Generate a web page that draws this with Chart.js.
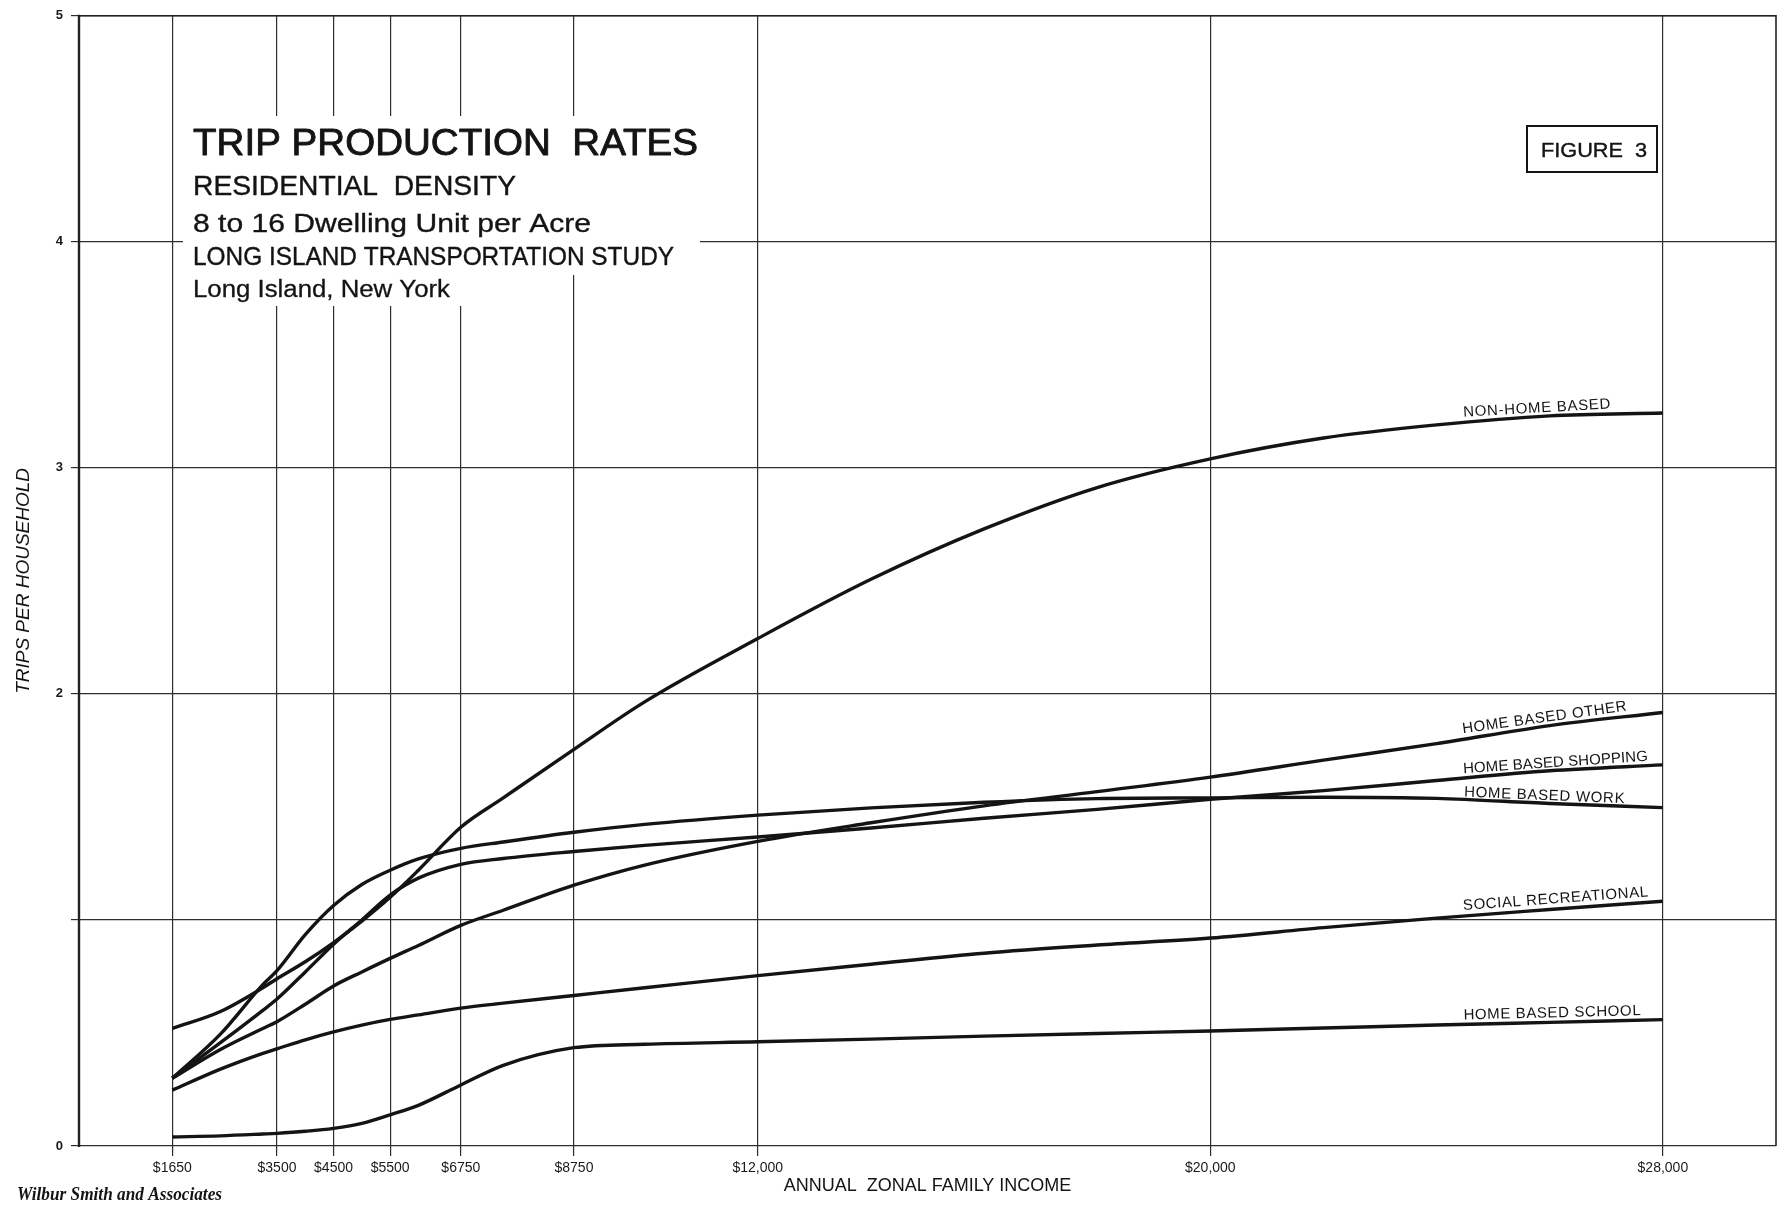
<!DOCTYPE html>
<html>
<head>
<meta charset="utf-8">
<title>Trip Production Rates</title>
<script src="https://cdn.jsdelivr.net/npm/chart.js@4.4.1/dist/chart.umd.min.js"></script>
<style>
  html, body { margin: 0; padding: 0; background: #ffffff; }
  #wrap { width: 1792px; height: 1209px; position: relative; }
</style>
</head>
<body>
<div id="wrap"><canvas id="chart"></canvas></div>
<script>
// Annual zonal family income (dollars) at which each curve is sampled
const incomes = [1650, 2500, 3250, 3500, 4000, 4500, 5000, 5500, 6000, 6750, 7500, 8750,
                 10000, 12000, 14000, 16000, 18000, 20000, 22000, 24000, 26000, 28000];

// Trips per household, by trip purpose
const nonHomeBased       = [0.52, 0.595, 0.70, 0.74, 0.815, 0.90, 0.995, 1.10, 1.22, 1.41, 1.54, 1.755,
                            1.965, 2.245, 2.507, 2.73, 2.913, 3.04, 3.132, 3.19, 3.23, 3.243];
const homeBasedOther     = [0.30, 0.427, 0.52, 0.55, 0.627, 0.708, 0.77, 0.83, 0.887, 0.976, 1.043, 1.154,
                            1.243, 1.348, 1.43, 1.505, 1.568, 1.632, 1.707, 1.78, 1.86, 1.918];
const homeBasedShopping  = [0.30, 0.457, 0.60, 0.65, 0.77, 0.893, 1.0, 1.11, 1.185, 1.246, 1.272, 1.303,
                            1.33, 1.367, 1.407, 1.45, 1.489, 1.534, 1.572, 1.617, 1.66, 1.686];
const homeBasedWork      = [0.30, 0.495, 0.714, 0.776, 0.935, 1.064, 1.157, 1.22, 1.27, 1.317, 1.345, 1.388,
                            1.423, 1.464, 1.496, 1.521, 1.537, 1.54, 1.543, 1.538, 1.515, 1.497];
const socialRecreational = [0.247, 0.34, 0.41, 0.43, 0.47, 0.505, 0.535, 0.56, 0.58, 0.61, 0.632, 0.666,
                            0.70, 0.754, 0.804, 0.853, 0.889, 0.92, 0.966, 1.008, 1.046, 1.083];
const homeBasedSchool    = [0.04, 0.045, 0.053, 0.056, 0.065, 0.078, 0.10, 0.138, 0.18, 0.27, 0.357, 0.435,
                            0.45, 0.461, 0.473, 0.486, 0.498, 0.509, 0.522, 0.535, 0.547, 0.559];

const seriesNames = ['NON-HOME BASED', 'HOME BASED OTHER', 'HOME BASED SHOPPING',
                     'HOME BASED WORK', 'SOCIAL RECREATIONAL', 'HOME BASED SCHOOL'];

// Axis ticks
const incomeTicks      = [1650, 3500, 4500, 5500, 6750, 8750, 12000, 20000, 28000];
const incomeTickLabels = ['$1650', '$3500', '$4500', '$5500', '$6750', '$8750', '$12,000', '$20,000', '$28,000'];
const tripTickLabels   = ['0', '', '2', '3', '4', '5'];

const titleLines = ['TRIP PRODUCTION  RATES', 'RESIDENTIAL  DENSITY', '8 to 16 Dwelling Unit per Acre',
                    'LONG ISLAND TRANSPORTATION STUDY', 'Long Island, New York'];

const FONT = "'Liberation Sans', Arial, sans-serif";
const INK = '#141414';

const seriesValues = [nonHomeBased, homeBasedOther, homeBasedShopping, homeBasedWork, socialRecreational, homeBasedSchool];

const datasets = seriesValues.map((vals, i) => ({
  label: seriesNames[i],
  data: incomes.map((x, j) => ({ x: x, y: vals[j] })),
  borderColor: INK,
  borderWidth: 3.4,
  pointRadius: 0,
  fill: false,
  cubicInterpolationMode: 'monotone'
}));

// value of a series at an arbitrary income (linear between samples)
function valueAt(vals, inc) {
  for (let i = 0; i < incomes.length - 1; i++) {
    if (inc >= incomes[i] && inc <= incomes[i + 1]) {
      const t = (inc - incomes[i]) / (incomes[i + 1] - incomes[i]);
      return vals[i] + t * (vals[i + 1] - vals[i]);
    }
  }
  return vals[vals.length - 1];
}

// draws pen-weight lettering squeezed/stretched horizontally to a given width
function fitText(ctx, text, x, y, font, width, weight) {
  ctx.font = font;
  const w = ctx.measureText(text).width;
  ctx.save();
  ctx.translate(x, y);
  ctx.scale(width / w, 1);
  ctx.fillText(text, 0, 0);
  if (weight) {
    ctx.lineWidth = weight;
    ctx.lineJoin = 'round';
    ctx.strokeStyle = ctx.fillStyle;
    ctx.strokeText(text, 0, 0);
  }
  ctx.restore();
}

const framePlugin = {
  id: 'frame',
  beforeDatasetsDraw(chart) {
    const { ctx, chartArea: a } = chart;
    ctx.save();
    ctx.strokeStyle = '#222';
    ctx.lineWidth = 1.6;
    ctx.beginPath();
    ctx.moveTo(a.left, a.top); ctx.lineTo(a.right, a.top); ctx.lineTo(a.right, a.bottom);
    ctx.stroke();
    ctx.lineWidth = 2.4;
    ctx.beginPath();
    ctx.moveTo(a.left, a.top - 1); ctx.lineTo(a.left, a.bottom + 1);
    ctx.stroke();
    ctx.restore();
  }
};

const curveLabelPlugin = {
  id: 'curveLabels',
  afterDatasetsDraw(chart) {
    const { ctx } = chart;
    const xs = chart.scales.x, ys = chart.scales.y;
    const startInc = 24480;
    const offsets = [6, 6, 5, 3, 6, 5];
    const spacing = [0.7, 0.6, 0.1, 0.7, 0.6, 0.6];
    ctx.save();
    ctx.fillStyle = INK;
    ctx.font = '15px ' + FONT;
    ctx.textBaseline = 'alphabetic';
    seriesValues.forEach((vals, i) => {
      const text = seriesNames[i];
      ctx.letterSpacing = spacing[i] + 'px';
      const w = ctx.measureText(text).width;
      const x0 = xs.getPixelForValue(startInc);
      const x1 = x0 + w;
      const y0 = ys.getPixelForValue(valueAt(vals, startInc));
      const y1 = ys.getPixelForValue(valueAt(vals, xs.getValueForPixel(x1)));
      const ang = Math.atan2(y1 - y0, x1 - x0);
      ctx.save();
      ctx.translate(x0, y0);
      ctx.rotate(ang);
      ctx.fillText(text, 0, -offsets[i]);
      ctx.restore();
    });
    ctx.restore();
  }
};

const titlePlugin = {
  id: 'titleBlock',
  afterDraw(chart) {
    const { ctx } = chart;
    ctx.save();
    // white panel behind the title lettering
    ctx.fillStyle = '#ffffff';
    ctx.fillRect(183, 116, 517, 159);
    ctx.fillRect(183, 275, 292, 31);

    ctx.fillStyle = INK;
    ctx.textBaseline = 'alphabetic';
    fitText(ctx, titleLines[0], 193, 155, '37px ' + FONT, 505, 0.9);
    fitText(ctx, titleLines[1], 193, 195, '28px ' + FONT, 323, 0.4);
    fitText(ctx, titleLines[2], 193, 232, '26px ' + FONT, 398, 0.35);
    fitText(ctx, titleLines[3], 193, 265, '25px ' + FONT, 481, 0.4);
    fitText(ctx, titleLines[4], 193, 297, '23px ' + FONT, 257, 0.3);

    // figure number box
    ctx.fillStyle = '#ffffff';
    ctx.fillRect(1527, 126, 130, 46);
    ctx.strokeStyle = INK;
    ctx.lineWidth = 2;
    ctx.strokeRect(1527, 126, 130, 46);
    ctx.fillStyle = INK;
    fitText(ctx, 'FIGURE  3', 1541, 157, '20px ' + FONT, 106, 0.4);

    // firm signature
    fitText(ctx, 'Wilbur Smith and Associates', 17, 1200, "italic bold 18px 'Liberation Serif', serif", 205);
    ctx.restore();
  }
};

new Chart(document.getElementById('chart'), {
  type: 'line',
  data: { datasets: datasets },
  plugins: [framePlugin, curveLabelPlugin, titlePlugin],
  options: {
    responsive: true,
    maintainAspectRatio: false,
    animation: false,
    layout: { padding: { top: 13, right: 16, left: 0, bottom: 0 } },
    plugins: { legend: { display: false }, tooltip: { enabled: false } },
    scales: {
      x: {
        type: 'linear',
        min: 0,
        max: 30000,
        afterBuildTicks: (s) => { s.ticks = incomeTicks.map(v => ({ value: v })); },
        afterFit: (s) => { s.height = 63; },
        ticks: {
          autoSkip: false,
          maxRotation: 0,
          callback: (v, i) => incomeTickLabels[i],
          font: { family: FONT, size: 14 },
          color: '#1a1a1a',
          padding: 4
        },
        grid: { color: '#2e2e2e', lineWidth: 1.2, tickLength: 10 },
        border: { display: false },
        title: {
          display: true,
          text: 'ANNUAL  ZONAL FAMILY INCOME',
          font: { family: FONT, size: 18 },
          color: INK,
          padding: { top: 0, bottom: 12 }
        }
      },
      y: {
        min: 0,
        max: 5,
        afterFit: (s) => { s.width = 79; },
        ticks: {
          stepSize: 1,
          callback: (v) => tripTickLabels[v],
          font: { family: FONT, size: 13, weight: 'bold' },
          color: '#1a1a1a',
          padding: 8
        },
        grid: { color: '#2e2e2e', lineWidth: 1.2, tickLength: 8 },
        border: { display: false },
        title: {
          display: true,
          text: 'TRIPS PER HOUSEHOLD',
          font: { family: FONT, size: 19, style: 'italic' },
          color: INK,
          padding: { top: 12, bottom: 0 }
        }
      }
    }
  }
});
</script>
</body>
</html>
